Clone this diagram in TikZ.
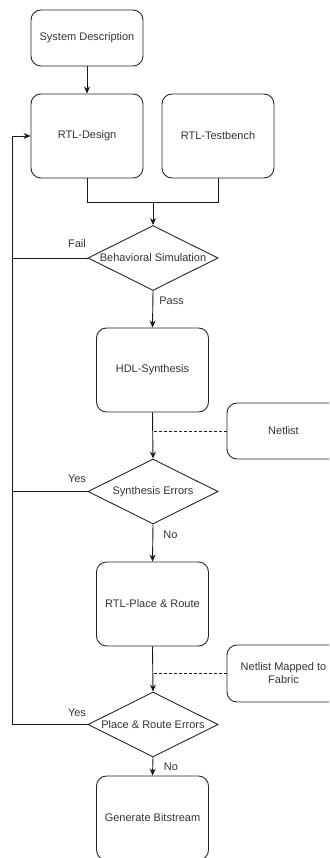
\documentclass[tikz,border=0pt]{standalone}
\usepackage{fontspec}
\setmainfont{Liberation Sans}
\usetikzlibrary{shapes.geometric,arrows.meta}
\begin{document}
\begin{tikzpicture}[x=1pt,y=-1pt,
  every node/.style={font=\fontsize{11}{13}\selectfont, text=black!80},
  box/.style={draw=black!85, line width=0.9pt, rounded corners=10pt, minimum width=112pt, inner sep=2pt, align=center},
  tall/.style={box, minimum height=84pt},
  short/.style={box, minimum height=56pt},
  dec/.style={draw=black!85, line width=0.9pt, diamond, aspect=2, inner sep=0pt, minimum width=130pt, minimum height=65pt},
  conn/.style={draw=black!90, line width=0.9pt},
  arr/.style={conn, -{Stealth[length=7pt,width=6pt]}},
  lab/.style={inner sep=0pt}
]
\useasboundingbox (0,0) rectangle (329,858);
\clip (0,0) rectangle (329,858);

\node[short] (sys) at (87,38) {System Description};
\node[tall] (rtl) at (87,136) {RTL-Design};
\node[tall] (tb) at (218,136) {RTL-Testbench};
\node[dec] (bsim) at (153,258) {Behavioral Simulation};
\node[tall] (hdl) at (152.5,370) {HDL-Synthesis};
\node[short, minimum width=113pt] (net) at (283.5,431) {Netlist};
\node[dec] (serr) at (153,491.5) {Synthesis Errors};
\node[tall] (pr) at (152.5,604) {RTL-Place \& Route};
\node[short, minimum width=113pt, minimum height=57pt] (nm) at (283.5,673.5) {Netlist Mapped to\\Fabric};
\node[dec] (prerr) at (153,724.5) {Place \& Route Errors};
\node[tall] (gen) at (152.5,818) {Generate Bitstream};

\coordinate (join) at (153,202);
\coordinate (loop) at (12,136);

\draw[arr] (sys.south) -- (rtl.north);
\draw[conn] (rtl.south) -- (rtl.south |- join) -- (tb.south |- join) -- (tb.south);
\draw[arr] (join) -- (bsim.north);
\draw[arr] (bsim.south) -- node[lab, right, xshift=6pt, pos=0.28] {Pass} (hdl.north);
\draw[arr] (hdl.south) -- (serr.north);
\draw[conn, dashed, dash pattern=on 3pt off 2pt] (net.west) -- (net.west -| hdl.south);
\draw[arr] (serr.south) -- node[lab, right, xshift=10pt, pos=0.28] {No} (pr.north);
\draw[arr] (pr.south) -- (prerr.north);
\draw[conn, dashed, dash pattern=on 3pt off 2pt] (nm.west) -- (nm.west -| pr.south);
\draw[arr] (prerr.south) -- (gen.north);
\node[lab] (no2) at (171,767) {No};

\draw[conn] (bsim.west) -- (bsim.west -| loop);
\draw[conn] (serr.west) -- (serr.west -| loop);
\draw[arr] (prerr.west) -- (prerr.west -| loop) -- (loop) -- (rtl.west);

\node[lab] (fail) at (77,244) {Fail};
\node[lab] (yes1) at (77,479) {Yes};
\node[lab] (yes2) at (77,713) {Yes};
\end{tikzpicture}
\end{document}
